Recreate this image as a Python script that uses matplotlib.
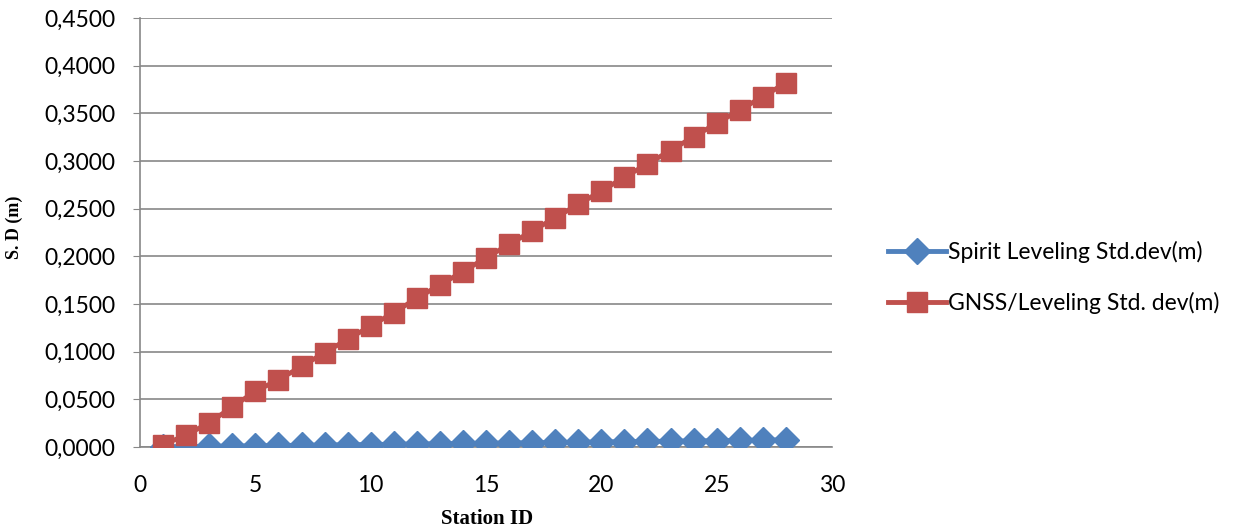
import matplotlib
matplotlib.use("Agg")
import matplotlib.pyplot as plt
from matplotlib.ticker import FuncFormatter

station = list(range(1, 29))
spirit_sd = [0.0002, 0.0005, 0.0008, 0.0010, 0.0013, 0.0016, 0.0018, 0.0021,
             0.0024, 0.0026, 0.0029, 0.0032, 0.0034, 0.0037, 0.0040, 0.0042,
             0.0045, 0.0048, 0.0050, 0.0053, 0.0056, 0.0058, 0.0061, 0.0064,
             0.0066, 0.0069, 0.0072, 0.0075]
gnss_sd = [0.0025, 0.0125, 0.0255, 0.0420, 0.0585, 0.0705, 0.0845, 0.0990,
           0.1130, 0.1270, 0.1410, 0.1560, 0.1700, 0.1840, 0.1985, 0.2125,
           0.2265, 0.2405, 0.2545, 0.2685, 0.2830, 0.2970, 0.3110, 0.3255,
           0.3395, 0.3535, 0.3675, 0.3820]
yticks = [0.0, 0.05, 0.1, 0.15, 0.2, 0.25, 0.3, 0.35, 0.4, 0.45]
xticks = [0, 5, 10, 15, 20, 25, 30]

plt.rcParams['font.family'] = ['Lato', 'DejaVu Sans']

fig = plt.figure(figsize=(12.35, 5.29), dpi=100)
ax = fig.add_axes([0.1134, 0.155, 0.5603, 0.811])

ax.plot(station, spirit_sd, color='#4F81BD', marker='D', markersize=13,
        linewidth=3.5, label='Spirit Leveling Std.dev(m)', zorder=3)
ax.plot(station, gnss_sd, color='#C0504D', marker='s', markersize=14,
        linewidth=3.5, label='GNSS/Leveling Std. dev(m)', zorder=4)

ax.set_xlim(0, 30)
ax.set_ylim(0, 0.45)
ax.set_xticks(xticks)
ax.set_yticks(yticks)
ax.yaxis.set_major_formatter(FuncFormatter(lambda v, p: f'{v:.4f}'.replace('.', ',')))
ax.tick_params(axis='both', labelsize=16.5, color='#888888', length=5)
ax.tick_params(axis='y', pad=13)
ax.tick_params(axis='x', length=0, pad=20)
ax.grid(axis='y', color='#888888', linewidth=1.2)
ax.set_axisbelow(True)
for side in ['top', 'right']:
    ax.spines[side].set_visible(False)
for side in ['left', 'bottom']:
    ax.spines[side].set_color('#888888')
    ax.spines[side].set_linewidth(1.2)

ax.set_xlabel('Station ID', fontfamily='Liberation Serif', fontweight='bold', fontsize=15)
ax.set_ylabel('S. D (m)', fontfamily='Liberation Serif', fontweight='bold', fontsize=13)
ax.xaxis.set_label_coords(0.501, -0.145)
ax.yaxis.set_label_coords(-0.169, 0.513)

fig.legend(loc='center left', bbox_to_anchor=(0.702, 0.476), frameon=False,
           fontsize=16.5, handlelength=2.55, labelspacing=1.25, handletextpad=0.1)

fig.savefig('out.png', dpi=100)
